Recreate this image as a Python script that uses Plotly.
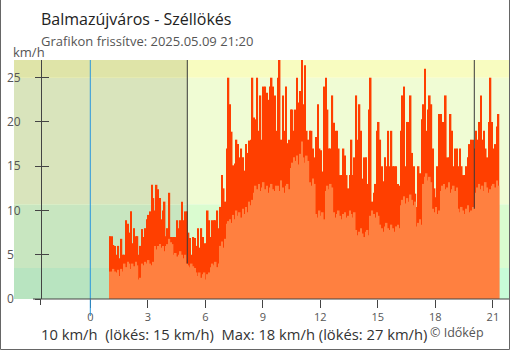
import plotly.graph_objects as go

# --- wind data: 5-minute samples starting at 01:00 (hours of the day) ---
start_hour = 1.0
step_min = 5

gust = [
    7.1, 7.1, 6.1, 6.0, 5.0, 6.0, 4.6, 6.8, 5.0, 5.0,
    8.9, 8.5, 7.5, 9.9, 6.3, 8.0, 7.1, 7.1, 5.0, 6.0,
    7.9, 7.0, 8.0, 9.0, 9.5, 9.9, 12.9, 11.4, 10.0, 12.9,
    12.4, 11.4, 9.0, 10.0, 11.0, 7.1, 8.0, 12.0, 7.0, 7.0,
    7.0, 7.0, 8.9, 8.0, 8.9, 11.0, 8.9, 9.9, 9.9, 7.5,
    6.9, 5.0, 7.0, 6.9, 6.0, 8.0, 5.8, 8.0, 7.0, 6.3,
    6.3, 10.0, 8.9, 7.0, 8.9, 8.9, 8.9, 10.0, 8.0, 10.4,
    14.0, 12.5, 11.0, 17.0, 25.0, 22.0, 18.9, 15.1, 15.3, 18.0,
    17.5, 16.0, 17.0, 16.0, 14.5, 17.5, 16.5, 17.9, 18.0, 25.0,
    20.5, 20.3, 25.0, 19.0, 23.0, 18.0, 24.0, 24.0, 23.3, 22.5,
    24.0, 25.0, 24.0, 23.0, 19.0, 25.0, 27.0, 18.0, 23.0, 19.0,
    24.0, 17.6, 18.0, 21.4, 21.4, 19.0, 21.4, 25.0, 22.2, 23.5,
    27.0, 22.0, 26.4, 19.0, 18.0, 19.0, 19.0, 17.0, 16.0, 18.3,
    22.0, 17.0, 16.8, 14.4, 24.0, 25.0, 21.4, 17.0, 17.0, 23.0,
    19.9, 19.0, 19.0, 17.0, 14.0, 14.0, 17.0, 16.2, 14.0, 12.5,
    14.0, 18.0, 14.0, 16.0, 23.0, 18.0, 22.0, 19.0, 13.6, 16.0,
    16.0, 13.0, 21.4, 25.0, 11.0, 12.0, 13.0, 19.0, 20.0, 18.0,
    15.0, 13.3, 16.0, 15.0, 19.0, 15.0, 19.0, 15.0, 15.0, 15.0,
    13.0, 12.8, 19.0, 23.0, 24.0, 15.0, 20.0, 20.0, 23.0, 16.5,
    15.0, 11.9, 10.4, 15.0, 14.2, 20.3, 22.0, 26.0, 19.0, 21.4,
    23.0, 22.0, 17.0, 12.5, 11.5, 15.0, 20.9, 20.9, 20.0, 20.0,
    23.0, 16.0, 16.0, 20.9, 19.0, 15.0, 17.0, 17.0, 15.0, 17.0,
    15.0, 14.0, 14.0, 15.0, 16.0, 17.5, 18.0, 18.0, 17.0, 19.0,
    18.0, 20.0, 23.0, 18.0, 19.0, 17.0, 16.0, 20.0, 25.0, 20.0,
    17.0, 17.5, 19.5, 20.9,
]

avg = [
    3.1, 3.1, 3.4, 3.1, 3.0, 3.3, 2.6, 3.4, 3.1,
    4.0, 3.6, 4.2, 4.0, 3.4, 4.0, 3.7, 4.2, 3.8,
    2.2, 2.4,
    4.0, 3.8, 4.2, 4.0, 4.4, 4.0, 3.8, 4.2,
    6.0, 5.6, 6.0, 6.2, 5.8, 6.0, 5.4, 6.0, 6.2,
    6.8, 6.4, 6.2,
    5.0, 5.2, 4.8, 5.0, 5.4, 5.0, 4.6, 5.0,
    4.0, 3.8, 3.6, 4.0, 3.7, 3.5,
    3.0, 2.6, 3.0, 2.4, 2.8, 3.0, 2.2, 2.8, 3.0,
    3.6, 4.0, 3.8, 4.2, 3.6, 4.0,
    6.0, 6.5, 5.8, 6.8,
    8.5, 8.8, 9.0, 8.6,
    9.5, 9.0, 10.0, 9.4, 9.8, 9.2, 10.2, 9.6,
    10.4, 9.8, 11.0, 10.6, 11.2,
    12.0, 12.8, 12.4, 13.0, 12.2, 12.6, 13.2, 12.4, 12.8, 12.0, 12.6, 13.0, 12.4, 12.2, 12.8,
    12.8, 12.2, 13.4, 12.6, 12.0, 12.8, 13.0, 12.4,
    14.8, 15.4, 16.0, 15.6, 16.2, 15.2, 16.4, 17.8, 16.0, 15.4, 16.2, 15.6,
    13.2, 12.8, 13.6, 13.0,
    9.6, 9.2, 10.0, 9.4, 9.8, 9.0,
    12.2, 12.8, 12.4, 13.0, 12.6,
    9.8, 9.2, 9.6, 10.0, 9.4, 9.0, 9.6, 9.8, 9.2, 9.4, 10.0, 9.6, 9.2, 9.8,
    7.8, 7.2, 7.6, 8.0, 7.4, 7.0, 7.6, 7.8, 7.2,
    9.4, 10.0, 9.6, 9.2, 9.8, 9.4,
    8.4, 8.0, 7.6, 8.2, 8.6, 8.0, 7.8, 8.4, 8.0, 7.6, 8.2, 8.4, 8.0,
    10.6, 11.2, 11.6, 10.8, 11.4, 11.0, 11.8, 11.2, 10.6, 11.0,
    8.2, 8.6, 9.0, 8.4,
    13.0, 13.8, 14.2, 13.4, 13.8, 13.2,
    10.2, 9.8, 10.4, 9.6, 10.0,
    12.2, 12.8, 13.0, 12.4, 12.6, 13.2, 12.0, 12.4, 12.8, 12.2, 12.6,
    10.2, 9.8, 10.4, 10.0, 9.6, 10.2, 10.6, 9.8, 10.0, 10.4, 10.2,
    12.0, 12.6, 13.0, 12.4, 12.8, 12.2, 13.2, 12.6, 12.0, 12.4, 12.8, 13.0, 12.6, 13.4, 12.8,
]

x_ticks = [0, 3, 6, 9, 12, 15, 18, 21]
y_ticks = [0, 5, 10, 15, 20, 25]
x_range = [-3.98, 21.84]
y_range = [0, 27]

# wind-strength background bands (km/h)
band_edges = [0, 3.5, 10.7, 25, 27]
day_colors = ["#c8fcd8", "#dafcd0", "#f0fcd4", "#f8fcc0"]
night_colors = ["#b8e4c0", "#c8e6c0", "#d9e4bc", "#dfe4a8"]

midnight = 0.0
sunrise = 5.06
sunset = 20.03

title_text = "Balmazújváros - Széllökés"
subtitle_text = "Grafikon frissítve: 2025.05.09 21:20"
unit_text = "km/h"
NB = "\u00a0"
summary_text = ("10 km/h" + NB * 2 + "(lökés: 15 km/h)" + NB * 2 +
                "Max: 18 km/h (lökés: 27 km/h)")
credit_text = "© Időkép"

# --- geometry of the page ---
W, H = 510, 350
ML, MR, MT, MB = 14, 1, 60, 51
PW, PH = W - ML - MR, H - MT - MB


def px(xp):
    return (xp - ML) / PW


def py(yp):
    return (H - MB - yp) / PH


step_h = step_min / 60.0
times = [start_hour + i * step_h for i in range(len(gust))]


def avg_at(t):
    i = int((t - start_hour) / step_h)
    i = max(0, min(len(avg) - 1, i))
    return avg[i]


FONT = "Open Sans"
fig = go.Figure()

fig.add_trace(go.Bar(x=times, y=gust, width=step_h, offset=0,
                     marker=dict(color="#ff3f00", line=dict(width=0)),
                     hoverinfo="skip", showlegend=False))
fig.add_trace(go.Bar(x=times, y=avg, width=step_h, offset=0,
                     marker=dict(color="#ff8040", line=dict(width=0)),
                     hoverinfo="skip", showlegend=False))

# sunrise / sunset markers, down to the mean wind at that moment
for t in (sunrise, sunset):
    fig.add_trace(go.Scatter(x=[t, t], y=[avg_at(t), y_range[1]], mode="lines",
                             line=dict(color="#3a3a3a", width=1),
                             hoverinfo="skip", showlegend=False))

# helper traces so the extra tick/label axes get drawn
fig.add_trace(go.Scatter(x=[None], y=[None], yaxis="y2", showlegend=False))
fig.add_trace(go.Scatter(x=[None], y=[None], yaxis="y3", showlegend=False))

shapes = []
for i in range(len(day_colors)):
    shapes.append(dict(type="rect", xref="x", yref="y", layer="below",
                       x0=x_range[0], x1=x_range[1],
                       y0=band_edges[i], y1=band_edges[i + 1],
                       fillcolor=day_colors[i], line=dict(width=0)))
    shapes.append(dict(type="rect", xref="x", yref="y", layer="below",
                       x0=x_range[0], x1=sunrise,
                       y0=band_edges[i], y1=band_edges[i + 1],
                       fillcolor=night_colors[i], line=dict(width=0)))

# midnight marker, running below the axis
shapes.append(dict(type="line", xref="x", yref="paper", x0=midnight, x1=midnight,
                   y0=1, y1=py(316), line=dict(color="#2a96dc", width=1)))
# bottom axis line
shapes.append(dict(type="line", xref="paper", yref="paper", x0=px(33), x1=1,
                   y0=0, y1=0, line=dict(color="#444", width=1)))
# y-axis line extension below the baseline
yax_pos = px(40.5)
shapes.append(dict(type="line", xref="paper", yref="paper", x0=yax_pos, x1=yax_pos,
                   y0=0, y1=py(305), line=dict(color="#444", width=1)))
# frame
frame = dict(color="#666", width=1)
shapes.append(dict(type="line", xref="paper", yref="paper", x0=px(0.5), x1=px(0.5),
                   y0=py(0), y1=py(349.5), line=frame))
shapes.append(dict(type="line", xref="paper", yref="paper", x0=px(509.5), x1=px(509.5),
                   y0=py(0), y1=py(349.5), line=frame))
shapes.append(dict(type="line", xref="paper", yref="paper", x0=px(0.5), x1=px(509.5),
                   y0=py(349.5), y1=py(349.5), line=frame))

annotations = [
    dict(text=title_text, x=px(40), y=py(18.5), font=dict(size=16, color="#222")),
    dict(text=subtitle_text, x=px(40), y=py(41), font=dict(size=13, color="#555")),
    dict(text=unit_text, x=px(12), y=py(52), font=dict(size=13, color="#555")),
    dict(text=summary_text, x=px(39.5), y=py(333.5), font=dict(size=14.75, color="#333")),
    dict(text=credit_text, x=px(428.5), y=py(332.5), font=dict(size=12.5, color="#555")),
]
for a in annotations:
    a.update(xref="paper", yref="paper", xanchor="left", yanchor="middle",
             showarrow=False, borderpad=0, font=dict(family=FONT, **a["font"]))

fig.update_layout(
    width=W, height=H,
    margin=dict(l=ML, r=MR, t=MT, b=MB, pad=0),
    paper_bgcolor="white", plot_bgcolor="white",
    barmode="overlay",
    showlegend=False,
    font=dict(family=FONT, color="#555"),
    shapes=shapes,
    annotations=annotations,
    xaxis=dict(range=x_range, tickvals=x_ticks, ticks="outside", ticklen=8,
               tickcolor="#444", tickwidth=1, showline=False, showgrid=False,
               zeroline=False, tickfont=dict(size=11, color="#555"),
               automargin=False, fixedrange=True),
    yaxis=dict(range=y_range, tickvals=y_ticks, anchor="free", position=yax_pos,
               ticks="outside", ticklen=6, tickcolor="#444", showline=True,
               linecolor="#444", linewidth=1, showticklabels=False,
               showgrid=False, zeroline=False, automargin=False, fixedrange=True),
    yaxis2=dict(range=y_range, tickvals=y_ticks, overlaying="y", anchor="free",
                position=yax_pos, ticks="inside", ticklen=7, tickcolor="#444",
                showline=False, showticklabels=False, showgrid=False,
                zeroline=False, automargin=False, fixedrange=True),
    yaxis3=dict(range=y_range, tickvals=y_ticks, overlaying="y", anchor="free",
                position=0, side="right", ticks="", showline=False,
                ticklabelstandoff=-8, tickfont=dict(size=12, color="#555"),
                showgrid=False, zeroline=False, automargin=False, fixedrange=True),
)

fig.write_html("out.html")
